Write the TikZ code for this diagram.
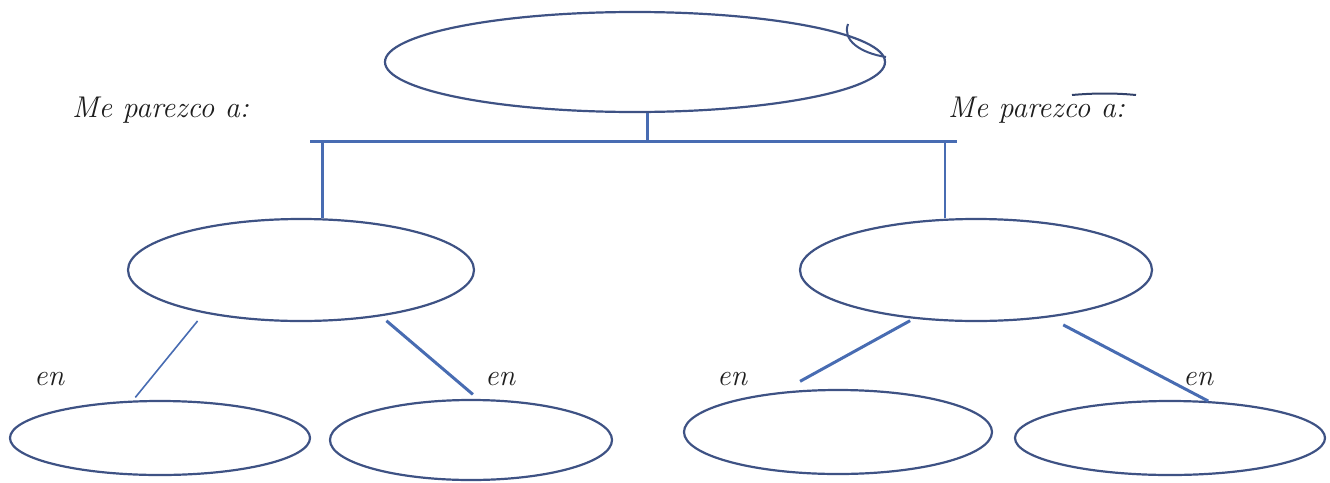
\documentclass[tikz,border=0pt]{standalone}
\usetikzlibrary{shapes.geometric}
\definecolor{ellcol}{RGB}{62,82,132}
\definecolor{linecol}{RGB}{72,108,178}
\definecolor{txtcol}{RGB}{30,30,30}
\begin{document}
\begin{tikzpicture}[x=1pt,y=-1pt,
  oval/.style={ellipse,draw=ellcol,line width=2.2pt,inner sep=0pt},
  thick line/.style={draw=linecol,line width=3pt},
  thin line/.style={draw=linecol,line width=1.6pt},
  lbl/.style={text=txtcol,font=\fontsize{30}{34}\selectfont\itshape,inner sep=0pt}]
\useasboundingbox (0,0) rectangle (1330,482);
% ellipses
\node[oval,minimum width=500pt,minimum height=100pt] (top) at (635,62) {};
\node[oval,minimum width=346pt,minimum height=102pt] (m1) at (301,270) {};
\node[oval,minimum width=352pt,minimum height=102pt] (m2) at (976,270) {};
\node[oval,minimum width=300pt,minimum height=74pt] (b1) at (160,438) {};
\node[oval,minimum width=282pt,minimum height=80pt] (b2) at (471,440) {};
\node[oval,minimum width=308pt,minimum height=84pt] (b3) at (838,432) {};
\node[oval,minimum width=310pt,minimum height=74pt] (b4) at (1170,438) {};
% bar
\coordinate (barL) at (310,141);
\coordinate (barR) at (957,141);
\draw[thick line] (barL) -- (barR);
\draw[thick line] ([xshift=12pt]top.south) -- ([xshift=12pt]top.south |- barL);
\draw[thick line] ([xshift=21pt]m1.north) -- ([xshift=21pt]m1.north |- barL);
\draw[thin line] ([xshift=-31pt]m2.north) -- ([xshift=-31pt]m2.north |- barR);
% diagonals
\draw[thin line,shorten <=10pt,shorten >=4pt] (m1.-156) -- (b1.126);
\draw[thick line,shorten <=7pt,shorten >=7pt] (m1.-30) -- (b2.80);
\draw[thick line,shorten <=4pt,shorten >=22pt] (m2.-142) -- (b3.145);
\draw[thick line,shorten <=16pt] (m2.-33) -- (b4.44);
% pen marks
\draw[ellcol,line width=2pt] (848,24) .. controls (842,40) and (860,53) .. (886,57);
\draw[ellcol!80!black,line width=2pt] (1072,95) .. controls (1095,93) and (1115,93) .. (1136,95);
% labels
\node[lbl,anchor=base west] (lblL) at (72,117) {Me parezco a:};
\node[lbl,anchor=base west] (lblR) at (948,117) {Me parezco a:};
\node[lbl,anchor=base west] (e1) at (34,385) {en};
\node[lbl,anchor=base west] (e2) at (485,385) {en};
\node[lbl,anchor=base west] (e3) at (717,385) {en};
\node[lbl,anchor=base west] (e4) at (1183,385) {en};
\end{tikzpicture}
\end{document}
